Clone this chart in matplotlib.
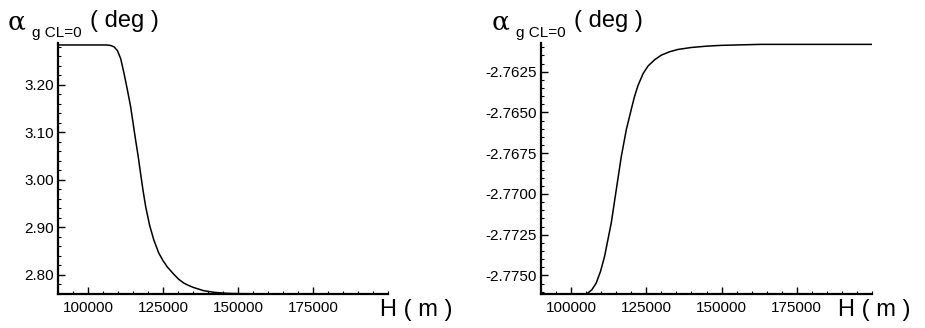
import matplotlib
matplotlib.use("Agg")
import matplotlib.pyplot as plt
from matplotlib.ticker import MultipleLocator, FormatStrFormatter

# Left panel data
h_left = [90000, 100000, 106000, 107500, 108700, 109800, 110900, 112000, 113100,
          114200, 115000, 115800, 116700, 117500, 118300, 119200, 120500, 121900,
          123500, 125000, 126400, 128500, 130200, 131900, 133500, 135000, 138500,
          142000, 146000, 150000, 160000, 200000]
a_left = [3.284, 3.284, 3.284, 3.283, 3.280, 3.272, 3.255, 3.224, 3.190,
          3.154, 3.120, 3.086, 3.050, 3.014, 2.979, 2.944, 2.905, 2.874,
          2.847, 2.830, 2.817, 2.802, 2.791, 2.783, 2.778, 2.774, 2.767,
          2.7635, 2.7615, 2.7607, 2.7603, 2.7603]

# Right panel data
h_right = [105560, 106900, 108330, 109780, 111110, 113330, 115000, 116670, 118330,
           120000, 121100, 122220, 123900, 125560, 127780, 130000, 132780, 135560,
           140000, 145000, 150000, 163000, 200000]
a_right = [-2.77608, -2.77588, -2.77547, -2.77475, -2.77384, -2.77179, -2.76975,
           -2.76771, -2.76607, -2.76480, -2.76400, -2.76335, -2.76262, -2.76215,
           -2.76176, -2.76148, -2.76127, -2.76113, -2.76101, -2.76093, -2.76088,
           -2.76082, -2.76082]

x_ticks = [100000, 125000, 150000, 175000]
left_yticks = [2.80, 2.90, 3.00, 3.10, 3.20]
right_yticks = [-2.7750, -2.7725, -2.7700, -2.7675, -2.7650, -2.7625]

plt.rcParams['font.family'] = ['Liberation Sans', 'DejaVu Sans']

fig = plt.figure(figsize=(9.25, 3.28), dpi=100)
ax1 = fig.add_axes([0.0627, 0.1037, 0.357, 0.765])
ax2 = fig.add_axes([0.5849, 0.1037, 0.3578, 0.765])


def style(ax, yticks, ylim, fmt, yminor):
    for s in ['top', 'right']:
        ax.spines[s].set_visible(False)
    for s in ['left', 'bottom']:
        ax.spines[s].set_linewidth(1.6)
    ax.set_xlim(90000, 200000)
    ax.set_ylim(*ylim)
    ax.set_xticks(x_ticks)
    ax.set_xticklabels([str(t) for t in x_ticks])
    ax.set_yticks(yticks)
    ax.yaxis.set_major_formatter(FormatStrFormatter(fmt))
    ax.xaxis.set_minor_locator(MultipleLocator(5000))
    ax.yaxis.set_minor_locator(MultipleLocator(yminor))
    ax.tick_params(which='major', direction='in', length=5, width=1.0,
                   labelsize=11, pad=3)
    ax.tick_params(axis='x', which='major', pad=5)
    ax.tick_params(which='minor', direction='in', length=2.5, width=0.8)


ax1.plot(h_left, a_left, color='black', lw=1.1)
style(ax1, left_yticks, (2.760, 3.288), '%.2f', 0.02)

ax2.plot(h_right, a_right, color='black', lw=1.1)
style(ax2, right_yticks, (-2.77614, -2.76074), '%.4f', 0.0005)

W, H = 925.0, 328.0


def ylabel(x0):
    fig.text(x0 / W, 1 - 22 / H, 'α', fontsize=19, family=['DejaVu Serif'],
             ha='left', va='center')
    fig.text((x0 + 24) / W, 1 - 33 / H, 'g CL=0', fontsize=11,
             ha='left', va='center')
    fig.text((x0 + 82) / W, 1 - 21 / H, '( deg )', fontsize=17,
             ha='left', va='center')


ylabel(8)
ylabel(492)

fig.text(380 / W, 1 - 310 / H, 'H ( m )', fontsize=17, ha='left', va='center')
fig.text(838 / W, 1 - 310 / H, 'H ( m )', fontsize=17, ha='left', va='center')

fig.savefig('out.png', dpi=100)
